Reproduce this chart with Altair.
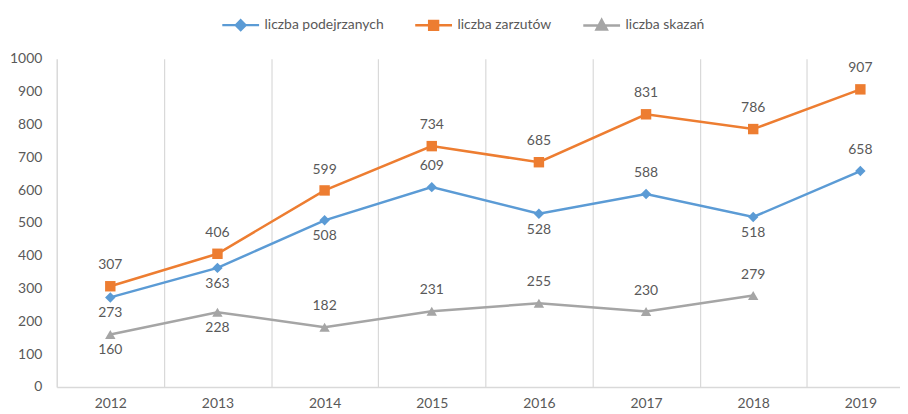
import altair as alt
import pandas as pd

years = [2012, 2013, 2014, 2015, 2016, 2017, 2018, 2019]
series_names = ["liczba podejrzanych", "liczba zarzutów", "liczba skazań"]
podejrzani = [273, 363, 508, 609, 528, 588, 518, 658]
zarzuty = [307, 406, 599, 734, 685, 831, 786, 907]
skazania = [160, 228, 182, 231, 255, 230, 279]
y_ticks = [0, 100, 200, 300, 400, 500, 600, 700, 800, 900, 1000]

colors = ["#5B9BD5", "#ED7D31", "#A5A5A5"]
shapes = ["diamond", "square", "triangle-up"]
# legend glyphs: a line with a (stroke-filled) marker in its middle
legend_paths = [
    "M-1,0H1M0,-0.26L0.26,0L0,0.26L-0.26,0ZM0,-0.13L0.13,0L0,0.13L-0.13,0Z",
    "M-1,0H1M-0.24,-0.24H0.24V0.24H-0.24ZM-0.24,-0.12H0.24M-0.24,0.12H0.24",
    "M-1,0H1M0,-0.3L0.28,0.22H-0.28ZM-0.081,-0.15H0.081M-0.145,-0.03H0.145M-0.21,0.09H0.21",
]
# label placement (years where the value label sits below the point)
labels_below = {
    "liczba podejrzanych": [2012, 2013, 2014, 2016, 2018],
    "liczba zarzutów": [],
    "liczba skazań": [2012, 2013],
}

rows = []
for name, vals in zip(series_names, [podejrzani, zarzuty, skazania]):
    for yr, v in zip(years, vals):
        rows.append({"rok": yr, "seria": name, "wartosc": v,
                     "pod": yr in labels_below[name]})
df = pd.DataFrame(rows)

grid_pos = [y + 0.5 for y in years[:-1]]
FONT = "Lato"
TXT = "#595959"
LINE = "#D9D9D9"

xscale = alt.Scale(domain=[2011.5, 2019.37], nice=False, zero=False)
yscale = alt.Scale(domain=[0, 1000], nice=False)

Y = alt.Y("wartosc:Q", scale=yscale, title=None,
          axis=alt.Axis(values=y_ticks, format="d", grid=False, ticks=False, domainColor=LINE,
                        domainWidth=1.5, labelPadding=15, labelFont=FONT,
                        labelFontSize=14, labelColor=TXT))
X_none = alt.X("rok:Q", scale=xscale, axis=None)
COLOR = alt.Color("seria:N", scale=alt.Scale(domain=series_names, range=colors), legend=None)

base = alt.Chart(df)

# layer carrying the legend and the x labels (invisible points)
legend_layer = base.mark_point(filled=False, opacity=0).encode(
    x=alt.X("rok:Q", scale=xscale, title=None,
            axis=alt.Axis(values=years, format="d", grid=False, ticks=False,
                          domainColor=LINE, domainWidth=1.5, labelPadding=10,
                          labelFont=FONT, labelFontSize=14, labelColor=TXT, orient="bottom")),
    y=Y,
    stroke=alt.Stroke("seria:N", scale=alt.Scale(domain=series_names, range=colors), title=None,
                      legend=alt.Legend(orient="none", legendX=165, legendY=-54, direction="horizontal",
                                        symbolSize=1369, symbolStrokeWidth=2.5, symbolOpacity=1,
                                        labelFont=FONT, labelFontSize=14, labelColor=TXT,
                                        labelOffset=4, columnPadding=26)),
    shape=alt.Shape("seria:N", scale=alt.Scale(domain=series_names, range=legend_paths), title=None),
)

lines = base.mark_line(strokeWidth=2.5).encode(
    x=alt.X("rok:Q", scale=xscale, title=None,
            axis=alt.Axis(values=grid_pos, grid=True, gridColor=LINE, gridWidth=1.2,
                          labels=False, ticks=False, domain=False, orient="top")),
    y=Y,
    color=COLOR,
    detail="seria:N",
)

shape_cond = {
    "condition": [
        {"test": f"datum.seria === '{series_names[0]}'", "value": shapes[0]},
        {"test": f"datum.seria === '{series_names[1]}'", "value": shapes[1]},
    ],
    "value": shapes[2],
}

points = base.mark_point(filled=True, opacity=1, size=110).encode(
    x=X_none, y=Y, color=COLOR, shape=shape_cond,
)

labels_up = base.mark_text(font=FONT, fontSize=14, color=TXT, baseline="middle", dy=-21).encode(
    x=X_none, y=Y, text=alt.Text("wartosc:Q"),
).transform_filter("!datum.pod")

labels_down = base.mark_text(font=FONT, fontSize=14, color=TXT, baseline="middle", dy=16).encode(
    x=X_none, y=Y, text=alt.Text("wartosc:Q"),
).transform_filter("datum.pod")

chart = alt.layer(legend_layer, lines, points, labels_up, labels_down).resolve_axis(
    x="independent"
).properties(
    width=848, height=330,
    autosize=alt.AutoSizeParams(type="none"),
    padding={"left": 49, "top": 50, "right": 0, "bottom": 22},
    background="white",
).configure_view(stroke=None)

chart.save("out.html", embed_options={"renderer": "svg", "actions": False})
